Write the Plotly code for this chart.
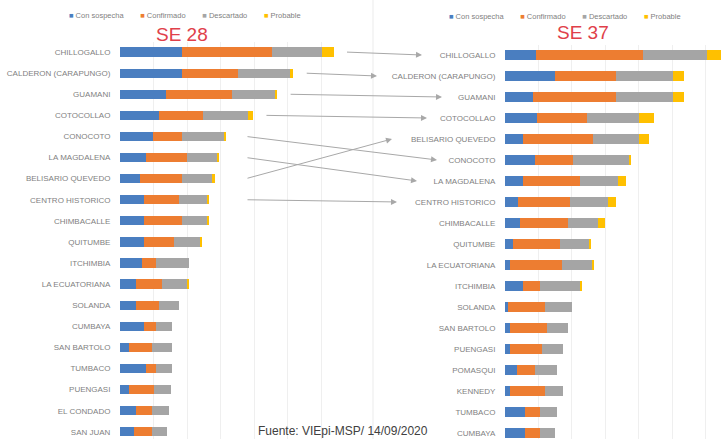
import plotly.graph_objects as go

# Series names / colours
series = ["Con sospecha", "Confirmado", "Descartado", "Probable"]
colors = {
    "Con sospecha": "#4A7EC0",
    "Confirmado": "#ED7D31",
    "Descartado": "#A5A5A5",
    "Probable": "#FFC000",
}

# SE 28 (left chart)
se28_parroquias = [
    "CHILLOGALLO", "CALDERON (CARAPUNGO)", "GUAMANI", "COTOCOLLAO", "CONOCOTO",
    "LA MAGDALENA", "BELISARIO QUEVEDO", "CENTRO HISTORICO", "CHIMBACALLE", "QUITUMBE",
    "ITCHIMBIA", "LA ECUATORIANA", "SOLANDA", "CUMBAYA", "SAN BARTOLO",
    "TUMBACO", "PUENGASI", "EL CONDADO", "SAN JUAN",
]
se28_sospecha = [186, 186, 138, 117, 99, 78, 60, 72, 72, 72, 66, 48, 48, 72, 27, 78, 27, 48, 42]
se28_confirmado = [267, 165, 195, 129, 87, 123, 126, 105, 114, 90, 42, 78, 69, 36, 69, 30, 75, 48, 54]
se28_descartado = [150, 156, 129, 135, 126, 90, 87, 84, 75, 75, 99, 75, 60, 48, 60, 48, 51, 51, 45]
se28_probable = [33, 9, 6, 15, 3, 3, 9, 3, 3, 6, 0, 3, 0, 0, 0, 0, 0, 0, 0]

# SE 37 (right chart)
se37_parroquias = [
    "CHILLOGALLO", "CALDERON (CARAPUNGO)", "GUAMANI", "COTOCOLLAO", "BELISARIO QUEVEDO",
    "CONOCOTO", "LA MAGDALENA", "CENTRO HISTORICO", "CHIMBACALLE", "QUITUMBE",
    "LA ECUATORIANA", "ITCHIMBIA", "SOLANDA", "SAN BARTOLO", "PUENGASI",
    "POMASQUI", "KENNEDY", "TUMBACO", "CUMBAYA",
]
se37_sospecha = [93, 150, 84, 96, 54, 90, 54, 39, 45, 24, 15, 54, 9, 15, 15, 36, 15, 60, 60]
se37_confirmado = [318, 180, 246, 150, 210, 114, 171, 156, 144, 141, 156, 51, 111, 111, 96, 54, 105, 45, 45]
se37_descartado = [192, 171, 171, 153, 135, 165, 111, 114, 90, 87, 90, 120, 81, 63, 63, 66, 54, 51, 45]
se37_probable = [42, 33, 33, 45, 30, 6, 24, 21, 21, 3, 3, 3, 0, 0, 0, 0, 0, 0, 0]

# parishes linked between both weeks
links = ["CHILLOGALLO", "CALDERON (CARAPUNGO)", "GUAMANI", "COTOCOLLAO",
         "CONOCOTO", "LA MAGDALENA", "BELISARIO QUEVEDO", "CENTRO HISTORICO"]

W, H = 722, 439
dom_l = [120 / W, 355 / W]
dom_r = [505 / W, 1.0]
rng_l = [0, 700]
rng_r = [0, 648]
ytop_l, ybot_l = -0.5, 18.34
ytop_r, ybot_r = -0.5, 18.29
dy_l = 1 - 41.5 / H
dy_r = 1 - 44.5 / H

fig = go.Figure()

left_vals = [se28_sospecha, se28_confirmado, se28_descartado, se28_probable]
right_vals = [se37_sospecha, se37_confirmado, se37_descartado, se37_probable]
for name, lv, rv in zip(series, left_vals, right_vals):
    fig.add_trace(go.Bar(
        y=se28_parroquias, x=lv, orientation="h", name=name,
        marker=dict(color=colors[name], line=dict(width=0)),
        xaxis="x", yaxis="y", showlegend=False,
    ))
    fig.add_trace(go.Bar(
        y=se37_parroquias, x=rv, orientation="h", name=name,
        marker=dict(color=colors[name], line=dict(width=0)),
        xaxis="x2", yaxis="y2", showlegend=False,
    ))

axis_common = dict(
    showgrid=True, gridcolor="#EFEFEF", gridwidth=1, zeroline=False,
    showticklabels=False, showline=False, dtick=100,
)
ycommon = dict(
    type="category", showgrid=False, zeroline=False, showline=False,
    ticks="outside", ticklen=7, tickcolor="rgba(0,0,0,0)",
    tickfont=dict(family="Arial", size=8, color="#7F7F7F"),
)

fig.update_layout(
    width=W, height=H,
    margin=dict(l=0, r=0, t=0, b=0),
    paper_bgcolor="white", plot_bgcolor="white",
    barmode="stack", bargap=0.56,
    xaxis=dict(domain=dom_l, range=rng_l, anchor="y", **axis_common),
    yaxis=dict(domain=[0, dy_l], range=[ybot_l, ytop_l], anchor="x", **ycommon),
    xaxis2=dict(domain=dom_r, range=rng_r, anchor="y2", **axis_common),
    yaxis2=dict(domain=[0, dy_r], range=[ybot_r, ytop_r], anchor="x2", **ycommon),
)


def paper_x(v, dom, rng):
    return dom[0] + (v - rng[0]) / (rng[1] - rng[0]) * (dom[1] - dom[0])


def paper_y(i, dy, ybot, ytop):
    return dy * (ybot - i) / (ybot - ytop)


# connecting arrows SE 28 -> SE 37
totals_l = [a + b + c + d for a, b, c, d in zip(*left_vals)]
for name in links:
    i = se28_parroquias.index(name)
    j = se37_parroquias.index(name)
    tail_x = max(paper_x(totals_l[i], dom_l, rng_l) + 12 / W, 246 / W)
    tail_y = paper_y(i, dy_l, ybot_l, ytop_l)
    head_x = (497 - len(name) * 5.0 - 20) / W
    head_y = paper_y(j, dy_r, ybot_r, ytop_r)
    fig.add_annotation(
        x=head_x, y=head_y, xref="paper", yref="paper",
        ax=(tail_x - head_x) * W, ay=-(tail_y - head_y) * H,
        axref="pixel", ayref="pixel",
        showarrow=True, arrowhead=2, arrowsize=1.2, arrowwidth=1,
        arrowcolor="#A8A8A8", text="",
    )

# legends drawn as text
def legend_text():
    parts = []
    for name in series:
        parts.append(f'<span style="color:{colors[name]}">■</span> {name}')
    return "&nbsp;&nbsp;&nbsp;&nbsp;&nbsp;&nbsp;&nbsp;&nbsp;".join(parts)


fig.add_annotation(x=185 / W, y=1 - 16 / H, xref="paper", yref="paper",
                   xanchor="center", yanchor="middle",
                   text=legend_text(), showarrow=False,
                   font=dict(family="Arial", size=7.5, color="#7F7F7F"))
fig.add_annotation(x=565 / W, y=1 - 17 / H, xref="paper", yref="paper",
                   xanchor="center", yanchor="middle",
                   text=legend_text(), showarrow=False,
                   font=dict(family="Arial", size=7.5, color="#7F7F7F"))

# week titles
fig.add_annotation(x=182 / W, y=1 - 34 / H, xref="paper", yref="paper",
                   xanchor="center", yanchor="middle",
                   text="SE 28", showarrow=False,
                   font=dict(family="Arial", size=19, color="#E0404A"))
fig.add_annotation(x=583 / W, y=1 - 32 / H, xref="paper", yref="paper",
                   xanchor="center", yanchor="middle",
                   text="SE 37", showarrow=False,
                   font=dict(family="Arial", size=19, color="#E0404A"))

# source
fig.add_annotation(x=343 / W, y=1 - 431 / H, xref="paper", yref="paper",
                   xanchor="center", yanchor="middle",
                   text="Fuente: VIEpi-MSP/ 14/09/2020", showarrow=False,
                   font=dict(family="Arial", size=12, color="#404040"))

# faint separator line between the two charts
fig.add_shape(type="line", xref="paper", yref="paper",
              x0=373 / W, x1=373 / W, y0=0, y1=1,
              line=dict(color="#EBEBEB", width=1))

fig.write_html("out.html", config={"displayModeBar": False},
               post_script="document.body.style.margin='0px';")
